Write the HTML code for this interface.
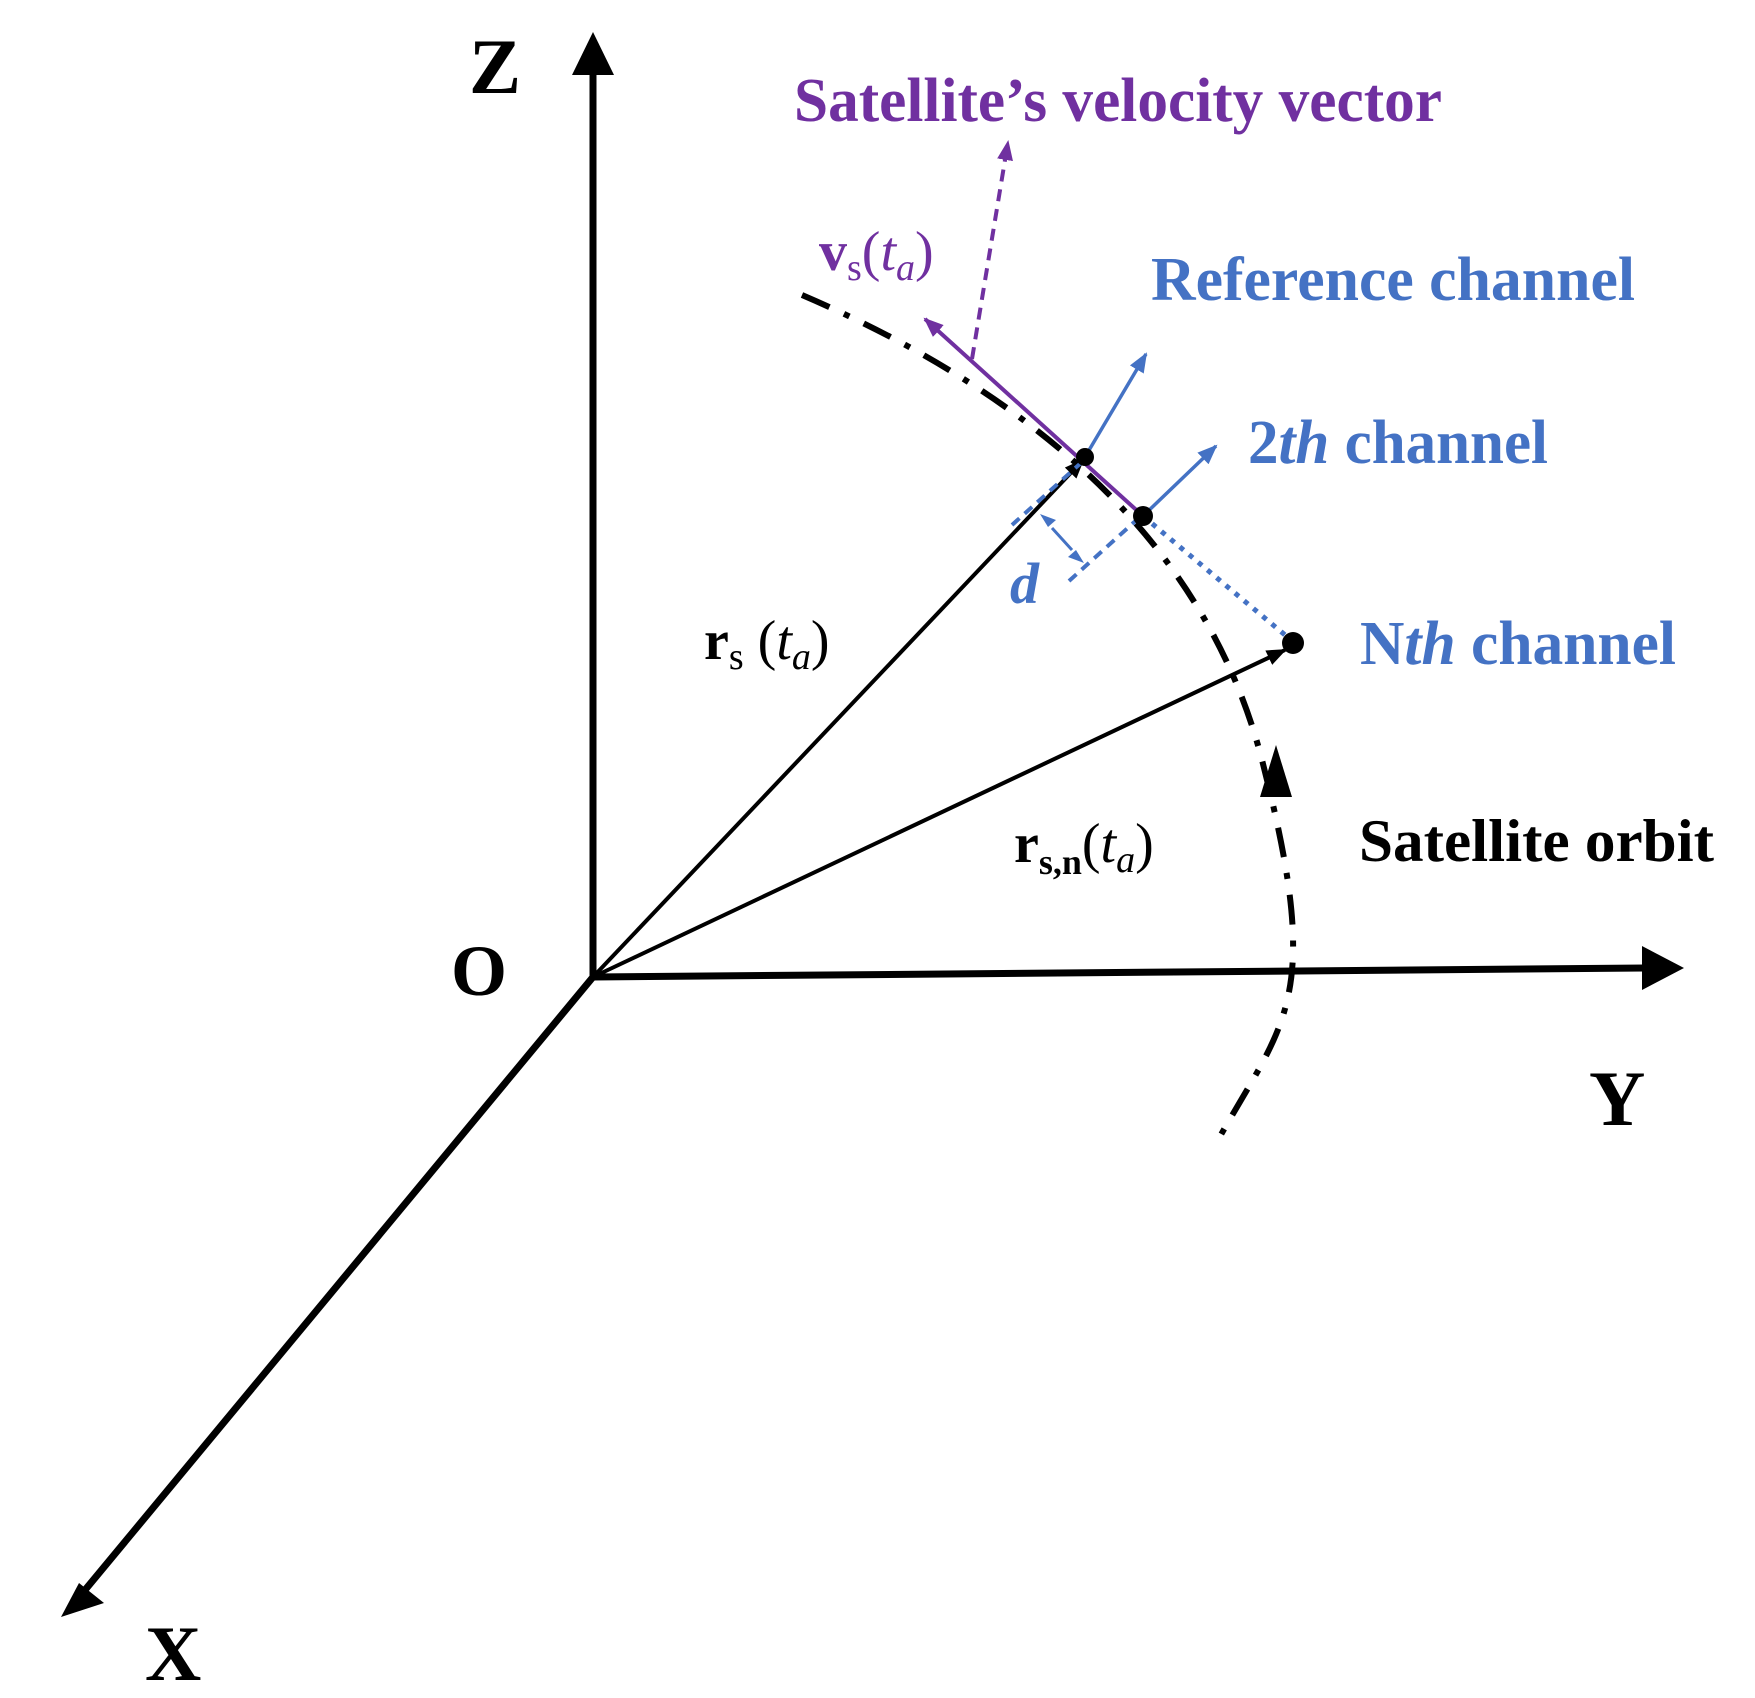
<!DOCTYPE html>
<html><head><meta charset="utf-8"><style>
html,body{margin:0;padding:0;background:#fff;}
svg{display:block;}
text{font-family:"Liberation Serif",serif;}
</style></head><body>
<svg width="1755" height="1698" viewBox="0 0 1755 1698" xmlns="http://www.w3.org/2000/svg">
<defs>
<marker id="ab2" markerWidth="20" markerHeight="16" refX="18" refY="8" orient="auto" markerUnits="userSpaceOnUse"><path d="M0,0 L20,8 L0,16 z" fill="#000"/></marker>
<marker id="ap" markerWidth="20" markerHeight="16" refX="18" refY="8" orient="auto" markerUnits="userSpaceOnUse"><path d="M0,0 L20,8 L0,16 z" fill="#7030a0"/></marker>
<marker id="abl" markerWidth="20" markerHeight="16" refX="18" refY="8" orient="auto" markerUnits="userSpaceOnUse"><path d="M0,0 L20,8 L0,16 z" fill="#4472c4"/></marker>
</defs>

<!-- Axes -->
<line x1="593" y1="977" x2="593" y2="72" stroke="#000" stroke-width="7"/>
<polygon points="593,32 572,75 614,75" fill="#000"/>
<line x1="593" y1="977" x2="1645" y2="968" stroke="#000" stroke-width="7"/>
<polygon points="1684,968 1642,946 1642,990" fill="#000"/>
<line x1="593" y1="977" x2="85" y2="1590" stroke="#000" stroke-width="7"/>
<polygon points="61,1617 104,1603 79,1583" fill="#000"/>

<!-- Orbit -->
<path d="M802,295 C1000,380 1200,520 1262,760 S1285,1020 1218,1140" fill="none" stroke="#000" stroke-width="6" stroke-dasharray="30 16 6 16"/>
<polygon points="1276,745 1260,797 1292,797" fill="#000"/>

<!-- position vectors -->
<line x1="593" y1="977" x2="1083" y2="460" stroke="#000" stroke-width="4" marker-end="url(#ab2)"/>
<line x1="593" y1="977" x2="1285" y2="650" stroke="#000" stroke-width="4" marker-end="url(#ab2)"/>

<!-- blue dashed / dotted -->
<line x1="1012" y1="525" x2="1082" y2="462" stroke="#4472c4" stroke-width="4" stroke-dasharray="10 7"/>
<line x1="1069" y1="581" x2="1141" y2="516" stroke="#4472c4" stroke-width="4" stroke-dasharray="10 7"/>
<line x1="1143" y1="516" x2="1291" y2="640" stroke="#4472c4" stroke-width="5" stroke-dasharray="5 7"/>
<line x1="1052" y1="528" x2="1072" y2="550" stroke="#4472c4" stroke-width="3"/>
<polygon points="1040,514 1056,520 1048,527" fill="#4472c4"/>
<polygon points="1084,563 1068,557 1076,550" fill="#4472c4"/>

<!-- channel arrows -->
<line x1="1085" y1="457" x2="1146" y2="354" stroke="#4472c4" stroke-width="3.5" marker-end="url(#abl)"/>
<line x1="1143" y1="516" x2="1216" y2="446" stroke="#4472c4" stroke-width="3.5" marker-end="url(#abl)"/>

<!-- velocity -->
<line x1="1143" y1="516" x2="925" y2="319" stroke="#7030a0" stroke-width="4" marker-end="url(#ap)"/>
<line x1="972" y1="359" x2="1008" y2="142" stroke="#7030a0" stroke-width="4" stroke-dasharray="12 8" marker-end="url(#ap)"/>

<!-- dots -->
<circle cx="1085" cy="457" r="9" fill="#000"/>
<circle cx="1143" cy="516" r="10" fill="#000"/>
<circle cx="1293" cy="643" r="11" fill="#000"/>

<!-- labels -->
<text x="469" y="93" font-size="78" font-weight="bold">Z</text>
<text x="451" y="995" font-size="72" font-weight="bold">O</text>
<text x="1589" y="1125" font-size="78" font-weight="bold">Y</text>
<text x="145" y="1680" font-size="78" font-weight="bold">X</text>

<text x="794" y="121" font-size="62" font-weight="bold" fill="#7030a0" textLength="648" lengthAdjust="spacingAndGlyphs">Satellite’s velocity vector</text>
<text x="1151" y="300" font-size="62" font-weight="bold" fill="#4472c4" textLength="484" lengthAdjust="spacingAndGlyphs">Reference channel</text>
<text x="1248" y="463" font-size="62" font-weight="bold" fill="#4472c4" textLength="300" lengthAdjust="spacingAndGlyphs">2<tspan font-style="italic">th</tspan> channel</text>
<text x="1360" y="664" font-size="62" font-weight="bold" fill="#4472c4" textLength="316" lengthAdjust="spacingAndGlyphs">N<tspan font-style="italic">th</tspan> channel</text>
<text x="1359" y="861" font-size="60" font-weight="bold" fill="#000" textLength="355" lengthAdjust="spacingAndGlyphs">Satellite orbit</text>
<text x="1010" y="603" font-size="58" font-weight="bold" font-style="italic" fill="#4472c4">d</text>

<text x="819" y="270" font-size="56" fill="#7030a0"><tspan font-weight="bold">v</tspan><tspan font-size="38" dy="10">s</tspan><tspan dy="-10">(</tspan><tspan font-style="italic">t</tspan><tspan font-size="38" dy="10" font-style="italic">a</tspan><tspan dy="-10">)</tspan></text>
<text x="704" y="659" font-size="56" fill="#000"><tspan font-weight="bold">r</tspan><tspan font-size="38" dy="10">s</tspan><tspan dy="-10"> (</tspan><tspan font-style="italic">t</tspan><tspan font-size="38" dy="10" font-style="italic">a</tspan><tspan dy="-10">)</tspan></text>
<text x="1014" y="862" font-size="56" fill="#000"><tspan font-weight="bold">r</tspan><tspan font-size="36" dy="12" font-weight="bold">s,n</tspan><tspan dy="-12">(</tspan><tspan font-style="italic">t</tspan><tspan font-size="38" dy="10" font-style="italic">a</tspan><tspan dy="-10">)</tspan></text>
</svg>
</body></html>
